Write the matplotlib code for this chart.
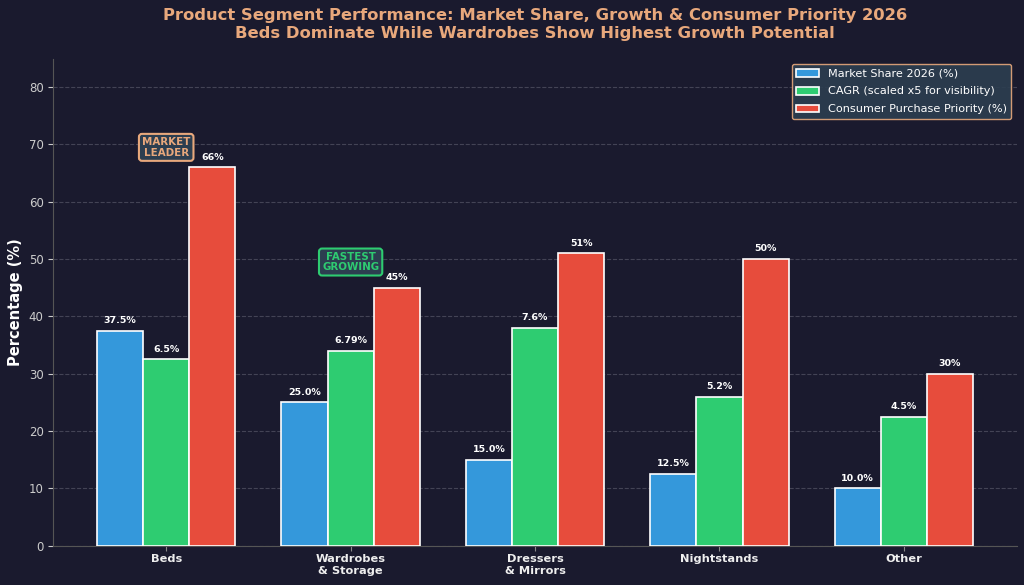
import numpy as np
import matplotlib.pyplot as plt

categories = ['Beds', 'Wardrobes\n& Storage', 'Dressers\n& Mirrors', 'Nightstands', 'Other']
market_share = [37.5, 25.0, 15.0, 12.5, 10.0]
cagr = [6.5, 6.79, 7.6, 5.2, 4.5]
priority = [66, 45, 51, 50, 30]

bg = '#1a1a2e'
accent = '#e8a87c'
c_blue, c_green, c_red = '#3498db', '#2ecc71', '#e74c3c'

fig, ax = plt.subplots(figsize=(10.24, 5.85), dpi=100)
fig.patch.set_facecolor(bg)
ax.set_facecolor(bg)

x = np.arange(len(categories))
w = 0.25
cagr_scaled = [v * 5 for v in cagr]

b1 = ax.bar(x - w, market_share, w, color=c_blue, edgecolor='white', linewidth=1.2,
            label='Market Share 2026 (%)', zorder=3)
b2 = ax.bar(x, cagr_scaled, w, color=c_green, edgecolor='white', linewidth=1.2,
            label='CAGR (scaled x5 for visibility)', zorder=3)
b3 = ax.bar(x + w, priority, w, color=c_red, edgecolor='white', linewidth=1.2,
            label='Consumer Purchase Priority (%)', zorder=3)

# value labels
for bar, v in zip(b1, market_share):
    ax.text(bar.get_x() + bar.get_width() / 2, bar.get_height() + 1, f'{v:.1f}%',
            ha='center', va='bottom', color='white', fontsize=6.8, fontweight='bold')
for bar, v in zip(b2, cagr):
    ax.text(bar.get_x() + bar.get_width() / 2, bar.get_height() + 1, f'{v}%',
            ha='center', va='bottom', color='white', fontsize=6.8, fontweight='bold')
for bar, v in zip(b3, priority):
    ax.text(bar.get_x() + bar.get_width() / 2, bar.get_height() + 1, f'{v}%',
            ha='center', va='bottom', color='white', fontsize=6.8, fontweight='bold')

# callouts
ax.text(0, 69.5, 'MARKET\nLEADER', ha='center', va='center', fontsize=7.4,
        fontweight='bold', color=accent, linespacing=1.1,
        bbox=dict(boxstyle='round,pad=0.3', facecolor='#2c3e50', edgecolor=accent, linewidth=1.5))
ax.text(1, 49.5, 'FASTEST\nGROWING', ha='center', va='center', fontsize=7.4,
        fontweight='bold', color=c_green, linespacing=1.1,
        bbox=dict(boxstyle='round,pad=0.3', facecolor='#2c3e50', edgecolor=c_green, linewidth=1.5))

ax.set_ylim(0, 85)
ax.set_xticks(x)
ax.set_xticklabels(categories, fontsize=8.2, fontweight='bold')
ax.tick_params(axis='y', colors='#cccccc', labelsize=8.5)
ax.tick_params(axis='x', colors='#888888', pad=2.5)
for lbl in ax.get_xticklabels():
    lbl.set_color('#eeeeee')
ax.set_ylabel('Percentage (%)', color='white', fontsize=10.5, fontweight='bold')
ax.yaxis.grid(True, linestyle='--', color='#555566', alpha=0.7, zorder=0)
ax.set_axisbelow(True)

for s in ['top', 'right']:
    ax.spines[s].set_visible(False)
for s in ['left', 'bottom']:
    ax.spines[s].set_color('#555555')

ax.set_title('Product Segment Performance: Market Share, Growth & Consumer Priority 2026\n'
             'Beds Dominate While Wardrobes Show Highest Growth Potential',
             color=accent, fontsize=11.8, fontweight='bold', pad=15)

leg = ax.legend(loc='upper right', fontsize=8.1, facecolor='#2c3e50', edgecolor=accent,
                labelcolor='white', framealpha=0.9, labelspacing=0.7)

plt.subplots_adjust(left=0.052, right=0.993, top=0.9, bottom=0.067)
plt.savefig('out.png', dpi=100, facecolor=bg)
